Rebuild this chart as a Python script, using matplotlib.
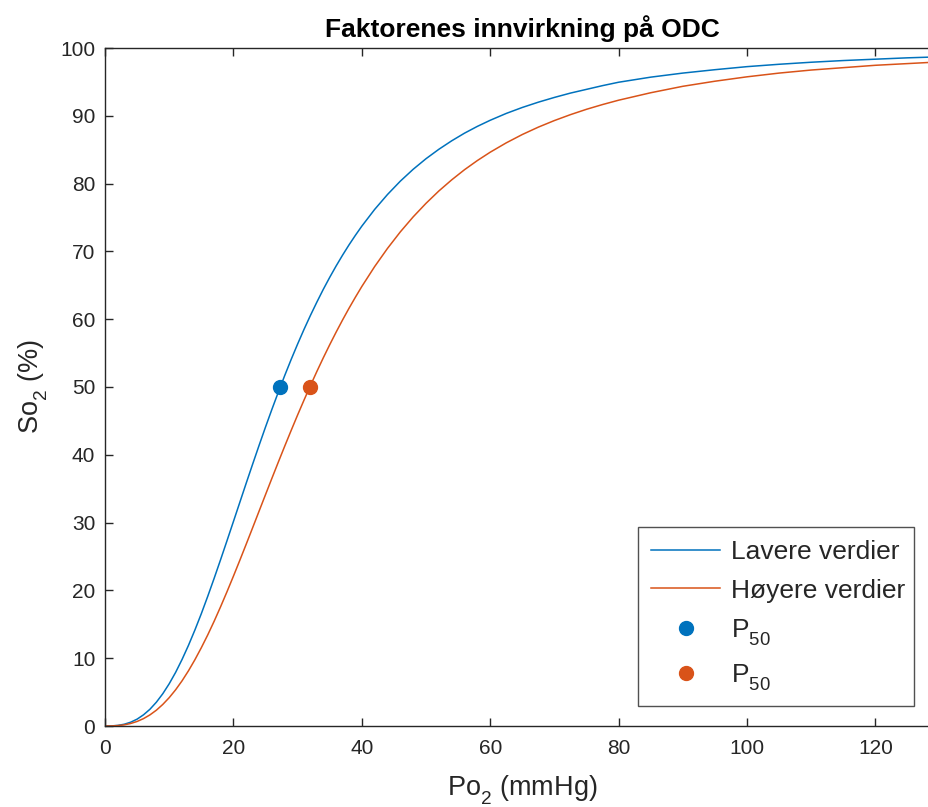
import matplotlib
matplotlib.use("Agg")
import matplotlib.pyplot as plt
try:
    import matplotlib._mathtext as _mt
    _mt.FontConstantsBase.sub1 = 0.6
    _mt.FontConstantsBase.sub2 = 0.8
except Exception:
    pass

plt.rcParams['font.family'] = ['Liberation Sans', 'DejaVu Sans']
plt.rcParams['mathtext.fontset'] = 'custom'
plt.rcParams['mathtext.rm'] = 'Liberation Sans'
plt.rcParams['mathtext.it'] = 'Liberation Sans'

# Po2 (mmHg) sample points
po2 = [0, 1, 2, 3, 4, 5, 6, 7, 8, 9, 10, 11, 12, 13, 14, 15, 16, 17, 18, 19, 20,
       21, 22, 23, 24, 25, 26, 27, 28, 29, 30, 31, 32, 33, 34, 35, 36, 37, 38, 39,
       40, 42, 44, 46, 48, 50, 52, 54, 56, 58, 60, 62.5, 65, 67.5, 70, 72.5, 75,
       77.5, 80, 85, 90, 95, 100, 105, 110, 115, 120, 125, 130]
# So2 (%) - lower factor values
so2_low = [0, 0.01, 0.09, 0.26, 0.56, 1.01, 1.65, 2.47, 3.51, 4.76, 6.23, 7.91, 9.81,
           11.89, 14.15, 16.56, 19.12, 21.78, 24.52, 27.32, 30.15, 32.99, 35.83,
           38.63, 41.39, 44.09, 46.71, 49.25, 51.71, 54.07, 56.33, 58.50, 60.56,
           62.52, 64.40, 66.17, 67.85, 69.44, 70.95, 72.37, 73.72, 76.19, 78.39,
           80.36, 82.11, 83.67, 85.06, 86.31, 87.44, 88.44, 89.34, 90.35, 91.23,
           92.01, 92.71, 93.35, 93.9, 94.45, 94.95, 95.7, 96.3, 96.8, 97.25, 97.6,
           97.9, 98.15, 98.35, 98.55, 98.7]
# So2 (%) - higher factor values
so2_high = [0, 0.01, 0.06, 0.17, 0.37, 0.67, 1.09, 1.64, 2.33, 3.18, 4.18, 5.34, 6.66,
            8.14, 9.77, 11.54, 13.43, 15.45, 17.58, 19.80, 22.09, 24.44, 26.83,
            29.25, 31.69, 34.12, 36.54, 38.93, 41.29, 43.60, 45.87, 48.07, 50.21,
            52.29, 54.30, 56.23, 58.09, 59.88, 61.60, 63.24, 64.82, 67.76, 70.44,
            72.88, 75.09, 77.09, 78.91, 80.55, 82.05, 83.40, 84.63, 86.01, 87.24,
            88.33, 89.30, 90.17, 90.96, 91.66, 92.3, 93.4, 94.35, 95.1, 95.75, 96.3,
            96.75, 97.1, 97.45, 97.7, 97.95]
# P50 points
p50_low = (27.3, 50)
p50_high = (31.9, 50)

labels = ['Lavere verdier', 'Høyere verdier', r'P$_{50}$', r'P$_{50}$']
blue = '#0072BD'
orange = '#D95319'
axcol = '#262626'

fig = plt.figure(figsize=(9.29, 8.07), dpi=100)
ax = fig.add_axes([105/929, 81/807, 834.6/929, 678/807])

ax.plot(po2, so2_low, color=blue, lw=1.1, label=labels[0])
ax.plot(po2, so2_high, color=orange, lw=1.1, label=labels[1])
ax.plot([p50_low[0]], [p50_low[1]], 'o', color=blue, ms=10, label=labels[2])
ax.plot([p50_high[0]], [p50_high[1]], 'o', color=orange, ms=10, label=labels[3])

ax.set_xlim(0, 130)
ax.set_ylim(0, 100)
ax.set_xticks([0, 20, 40, 60, 80, 100, 120])
ax.set_yticks(range(0, 101, 10))
ax.tick_params(direction='in', length=6, width=1, colors=axcol, labelsize=15,
               top=True, right=True)
ax.tick_params(axis='y', pad=7)
ax.tick_params(axis='x', pad=9)
for sp in ax.spines.values():
    sp.set_color(axcol)
    sp.set_linewidth(1)

ax.set_title('Faktorenes innvirkning på ODC', fontsize=19, fontweight='bold', pad=8)
ax.set_xlabel(r'Po$_2$ (mmHg)', fontsize=19.5, color=axcol, labelpad=11)
ax.set_ylabel(r'So$_2$ (%)', fontsize=19.5, color=axcol, labelpad=8)

leg = ax.legend(loc='upper left',
                bbox_to_anchor=(638/929, 1 - 527/807, 276/929, 0),
                mode='expand',
                bbox_transform=fig.transFigure, borderaxespad=0, fancybox=False,
                edgecolor=axcol, fontsize=19, handlelength=2.6, labelspacing=0.55,
                borderpad=0.5, handletextpad=0.42)
leg.get_frame().set_linewidth(1)
for t in leg.get_texts():
    t.set_color(axcol)

fig.savefig('out.png', dpi=100)
